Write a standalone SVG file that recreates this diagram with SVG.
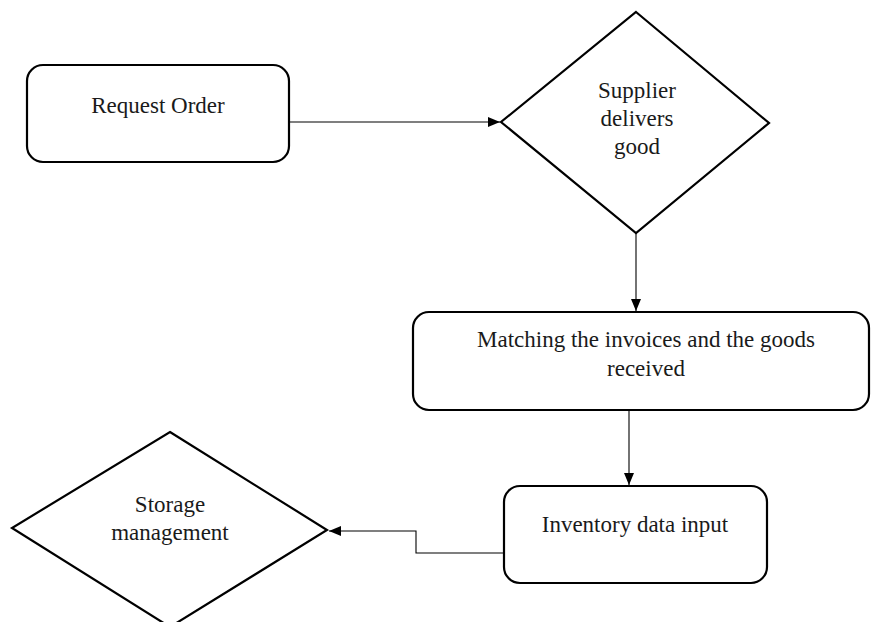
<svg xmlns="http://www.w3.org/2000/svg" width="874" height="622" viewBox="0 0 874 622">
<defs>
<marker id="arr" viewBox="0 0 12 10" refX="12" refY="5" markerWidth="12" markerHeight="10" markerUnits="userSpaceOnUse" orient="auto">
<path d="M0,0 L12,5 L0,10 Z" fill="#000"/>
</marker>
</defs>
<style>
.box{fill:#fff;stroke:#000;stroke-width:2.2}
.t{font-family:"Liberation Serif","Times New Roman",serif;font-size:23px;fill:#1a1a1a;text-anchor:middle}
.c{fill:none;stroke:#000;stroke-width:1.1}
</style>
<rect width="874" height="622" fill="#fff"/>
<g id="request-order">
<rect class="box" x="27" y="65" width="262" height="97" rx="16"/>
<text class="t" x="158" y="113">Request Order</text>
</g>
<g id="supplier-delivers">
<polygon class="box" points="636,12 769,123 636,233 501,122"/>
<text class="t" x="637" y="98">Supplier</text>
<text class="t" x="637" y="126">delivers</text>
<text class="t" x="637" y="154">good</text>
</g>
<g id="matching">
<rect class="box" x="413" y="312" width="456" height="98" rx="16"/>
<text class="t" x="646" y="347">Matching the invoices and the goods</text>
<text class="t" x="646" y="376">received</text>
</g>
<g id="inventory">
<rect class="box" x="504" y="486" width="263" height="97" rx="16"/>
<text class="t" x="635" y="532">Inventory data input</text>
</g>
<g id="storage">
<polygon class="box" points="170,432 327,530 170,627 12,528"/>
<text class="t" x="170" y="512">Storage</text>
<text class="t" x="170" y="540">management</text>
</g>
<g id="connectors">
<line class="c" x1="289" y1="122" x2="500" y2="122" marker-end="url(#arr)"/>
<line class="c" x1="636" y1="233" x2="636" y2="311" marker-end="url(#arr)"/>
<line class="c" x1="629" y1="410" x2="629" y2="485" marker-end="url(#arr)"/>
<polyline class="c" points="504,553 416,553 416,531 329,531" marker-end="url(#arr)"/>
</g>
</svg>
